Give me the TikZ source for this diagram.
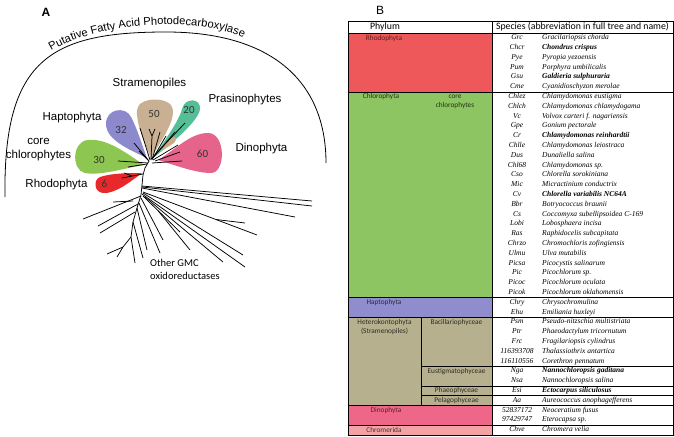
\documentclass[tikz,border=0pt]{standalone}
\usepackage{fontspec}
\setmainfont{Liberation Sans}
\newfontfamily\carlito{Carlito}
\newfontfamily\tserif{Liberation Serif}
\usetikzlibrary{decorations.text}
\definecolor{pbrown}{RGB}{201,176,146}
\definecolor{ppurple}{RGB}{140,138,204}
\definecolor{pgreen}{RGB}{141,198,80}
\definecolor{pred}{RGB}{232,40,42}
\definecolor{pteal}{RGB}{84,190,150}
\definecolor{ppink}{RGB}{230,100,140}
\definecolor{ptan}{RGB}{205,170,135}
\definecolor{trhodo}{RGB}{239,88,90}
\definecolor{tchloro}{RGB}{140,197,98}
\definecolor{thapto}{RGB}{143,141,205}
\definecolor{thetero}{RGB}{183,176,143}
\definecolor{tdino}{RGB}{238,102,136}
\definecolor{tchrom}{RGB}{243,162,166}
\newcommand\arcfont{\fontsize{11.2}{13}\selectfont}
\begin{document}
\begin{tikzpicture}[x=1pt,y=-1pt,
  cladelabel/.style={font=\fontsize{11.5}{14}\selectfont, inner sep=0pt, align=center},
  petalnum/.style={font=\carlito\fontsize{11}{12}\selectfont, text=black!80, inner sep=0pt},
  branch/.style={line width=0.75pt, black},
  hdr/.style={font=\carlito\fontsize{9.8}{11}\selectfont, inner sep=0pt},
  phyl/.style={font=\carlito\fontsize{7.3}{8}\selectfont, inner sep=0pt},
  abbr/.style={font=\tserif\itshape\fontsize{7.5}{8}\selectfont, inner sep=0pt, text height=5pt, text depth=1.5pt},
  spname/.style={font=\tserif\itshape\fontsize{7.5}{8}\selectfont, inner sep=0pt, anchor=west, text height=5pt, text depth=1.5pt},
  grid/.style={line width=0.6pt, black}]
\useasboundingbox (0,0) rectangle (674,436);

% ---------------- Panel A ----------------
\node[font=\bfseries\fontsize{12}{14}\selectfont, inner sep=0pt] (labA) at (46,12.5) {A};
\draw[line width=0.8pt] (5,197) .. controls (3,60) and (50,32) .. (166,32)
   .. controls (270,32) and (326,80) .. (326,163);
\path[decorate, decoration={text along path, text align=center,
   text={|\arcfont|Putative Fatty Acid Photodecarboxylase}}]
   (48,53) .. controls (90,25) and (190,13) .. (247,39);

% petals
\fill[pbrown] (151,158) .. controls (143,140) and (136,122) .. (137,110)
   .. controls (138,96) and (172,96) .. (173,110) .. controls (174,124) and (160,142) .. (151,158);
\fill[ppurple] (147,158) .. controls (130,150) and (106,140) .. (106,124)
   .. controls (106,108) and (126,106) .. (131,117) .. controls (137,128) and (142,145) .. (147,158);
\fill[pgreen] (144,165) .. controls (125,168) and (100,176) .. (85,173)
   .. controls (71,170) and (72,141) .. (88,140) .. controls (106,138) and (125,152) .. (144,165);
\fill[pred] (142,173) .. controls (130,182) and (115,194) .. (103,193)
   .. controls (94,192) and (93,180) .. (100,177) .. controls (112,173) and (130,173) .. (142,173);
\fill[pteal] (153,158) .. controls (165,140) and (179,121) .. (182,109)
   .. controls (185,97) and (201,98) .. (200,109) .. controls (199,120) and (175,141) .. (153,158);
\fill[ptan] (160,152) -- (171,137) .. controls (175,135) and (178,139) .. (174,143) -- cycle;
\fill[ppink] (158,160) .. controls (175,150) and (190,133) .. (208,133)
   .. controls (226,133) and (226,173) .. (211,173) .. controls (195,173) and (175,165) .. (158,160);

% petal labels
\node[petalnum] (n50) at (154,114) {50};
\node[petalnum] (n32) at (121,130) {32};
\node[petalnum] (n30) at (99,160) {30};
\node[petalnum] (n6) at (104.5,184) {6};
\node[petalnum] (n20) at (189,110) {20};
\node[petalnum] (n60) at (202.5,154) {60};

% clade labels
\node[cladelabel] (lStr) at (149.5,84) {Stramenopiles};
\node[cladelabel] (lHap) at (72,117.5) {Haptophyta};
\node[cladelabel] (lCore) at (38.5,150) {core\\chlorophytes};
\node[cladelabel] (lRho) at (56.5,185) {Rhodophyta};
\node[cladelabel] (lPra) at (245,100) {Prasinophytes};
\node[cladelabel] (lDin) at (261.5,149) {Dinophyta};
\node[font=\carlito\fontsize{10.5}{13}\selectfont, inner sep=0pt, align=left, anchor=north west] (lGMC) at (150,259) {Other GMC\\oxidoreductases};

% tree inside petals
\draw[branch] (150,160) -- (140,128);
\draw[branch] (151,160) -- (152,136) -- (149,129) (152,136) -- (155,129);
\draw[branch] (152,160) -- (160,132);
\draw[branch] (153,158) -- (166,136);
\draw[branch] (149,161) -- (134,143);
\draw[branch] (148,160) -- (139,151);
\draw[branch] (148,163) -- (118,161);
\draw[branch] (147,164) -- (128,167);
\draw[branch] (143,174) -- (122,178) (132,176) -- (124,173);
\draw[branch] (151,159) -- (185,123);
\draw[branch] (152,159) -- (175,132);
\draw[branch] (153,160) -- (178,145);
\draw[branch] (152,163) -- (182,161);
\draw[branch] (155,161) -- (180,152);
% trunk and outgroup
\draw[branch] (149,161) -- (145,168) -- (143,175) -- (142,185) -- (141,195) -- (137,208) -- (133,222) -- (131,237) -- (135,263);
\draw[branch] (142,186) -- (312,201);
\draw[branch] (142,187) -- (312,206);
\draw[branch] (142,188) -- (295,217);
\draw[branch] (143,192) -- (257,235);
\draw[branch] (216,219.5) -- (245,223);
\draw[branch] (143,193) -- (243,255);
\draw[branch] (142,194) -- (245,267);
\draw[branch] (145,197) -- (223,262);
\draw[branch] (141,196) -- (83,219);
\draw[branch] (138,204) -- (98,226);
\draw[branch] (135,212) -- (100,233);
\draw[branch] (133,201) -- (113,202);
\draw[branch] (131,237) -- (123,247) -- (107,254) (123,247) -- (117,257);
\draw[branch] (133,222) -- (143,258);
\draw[branch] (137,208) -- (147,250);
\draw[branch] (139,203) -- (160,253);
\draw[branch] (141,198) -- (163,240);
\draw[branch] (143,196) -- (180,232);
\draw[branch] (158,210.6) -- (190,250);

% ---------------- Panel B ----------------
\node[font=\fontsize{12}{14}\selectfont, inner sep=0pt] (labB) at (380,10) {B};

% fills
\fill[trhodo] (348,33) rectangle (492,91.8);
\fill[tchloro] (348,91.8) rectangle (492,297.6);
\fill[thapto] (348,297.6) rectangle (492,317.2);
\fill[thetero] (348,317.2) rectangle (492,405.4);
\fill[tdino] (348,405.4) rectangle (492,425);
\fill[tchrom] (348,425) rectangle (492,434.8);

% grid
\draw[grid] (348,21) rectangle (673,434.8);
\draw[grid] (348,33) -- (673,33);
\draw[grid] (492,21) -- (492,434.8);
\foreach \yy in {91.8,297.6,317.2,405.4,425} \draw[grid] (348,\yy) -- (673,\yy);
\foreach \yy in {366.2,385.8,395.6} \draw[grid] (421,\yy) -- (673,\yy);
\draw[grid] (421,317.2) -- (421,405.4);

% header
\node[hdr] (hPhy) at (385,27) {Phylum};
\node[hdr] (hSpe) at (582.5,27) {Species (abbreviation in full tree and name)};

% phylum labels
\node[phyl, text=trhodo!35!black] (pRho) at (384,38.4) {Rhodophyta};
\node[phyl, text=tchloro!25!black] (pChl) at (381,97) {Chlorophyta};
\node[phyl, text=tchloro!25!black, align=center] (pCore) at (455,101.9) {core\\[1.6pt]chlorophytes};
\node[phyl, text=thapto!30!black] (pHap) at (384,302.5) {Haptophyta};
\node[phyl, text=thetero!25!black, align=center] (pHet) at (384.5,327) {Heterokontophyta\\[1.6pt](Stramenopiles)};
\node[phyl, text=thetero!25!black] (pBac) at (456.5,322.1) {Bacillariophyceae};
\node[phyl, text=thetero!25!black] (pEus) at (456.5,371.1) {Eustigmatophyceae};
\node[phyl, text=thetero!25!black] (pPha) at (456.5,390.7) {Phaeophyceae};
\node[phyl, text=thetero!25!black] (pPel) at (456.5,400.5) {Pelagophyceae};
\node[phyl, text=tdino!35!black] (pDin) at (386,410.3) {Dinophyta};
\node[phyl, text=tchrom!30!black] (pChr) at (384,429.9) {Chromerida};

% species
\foreach \i/\ab/\nm in {
 0/Grc/Gracilariopsis chorda,
 1/Chcr/{\bfseries Chondrus crispus},
 2/Pye/Pyropia yezoensis,
 3/Pum/Porphyra umbilicalis,
 4/Gsu/{\bfseries Galdieria sulphuraria},
 5/Cme/Cyanidioschyzon merolae,
 6/Chlez/Chlamydomonas eustigma,
 7/Chlch/Chlamydomonas chlamydogama,
 8/Vc/Volvox carteri f. nagariensis,
 9/Gpe/Gonium pectorale,
 10/Cr/{\bfseries Chlamydomonas reinhardtii},
 11/Chlle/Chlamydomonas leiostraca,
 12/Dus/Dunaliella salina,
 13/Chl68/Chlamydomonas sp.,
 14/Cso/Chlorella sorokiniana,
 15/Mic/Micractinium conductrix,
 16/Cv/{\bfseries Chlorella variabilis NC64A},
 17/Bbr/Botryococcus braunii,
 18/Cs/Coccomyxa subellipsoidea C-169,
 19/Lobi/Lobosphaera incisa,
 20/Ras/Raphidocelis subcapitata,
 21/Chrzo/Chromochloris zofingiensis,
 22/Ulmu/Ulva mutabilis,
 23/Picsa/Picocystis salinarum,
 24/Pic/Picochlorum sp.,
 25/Picoc/Picochlorum oculata,
 26/Picok/Picochlorum oklahomensis,
 27/Chry/Chrysochromulina,
 28/Ehu/Emiliania huxleyi,
 29/Psm/Pseudo-nitzschia multistriata,
 30/Ptr/Phaeodactylum tricornutum,
 31/Frc/Fragilariopsis cylindrus,
 32/116393708/Thalassiothrix antartica,
 33/116110556/Corethron pennatum,
 34/Nga/{\bfseries Nannochloropsis gaditana},
 35/Nsa/Nannochloropsis salina,
 36/Esi/{\bfseries Ectocarpus siliculosus},
 37/Aa/Aureococcus anophagefferens,
 38/52837172/Neoceratium fusus,
 39/97429747/Eterocapsa sp.,
 40/Chve/Chromera velia}
{
  \pgfmathsetmacro\yy{33+9.8*(\i+0.5)}
  \node[abbr] (a\i) at (517,\yy) {\ab};
  \node[spname] (s\i) at (542,\yy) {\nm};
}
\end{tikzpicture}
\end{document}
